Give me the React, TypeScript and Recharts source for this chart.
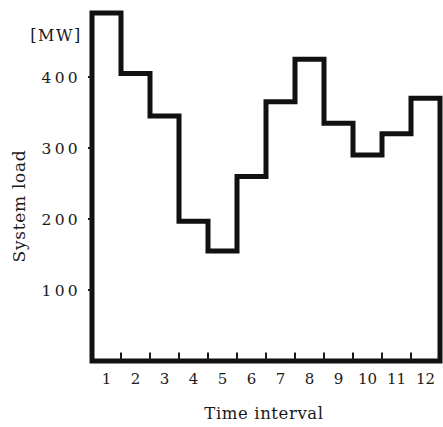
import React from 'react';
import { LineChart, Line, XAxis, YAxis, Label } from 'recharts';

const intervals = [1, 2, 3, 4, 5, 6, 7, 8, 9, 10, 11, 12];
const loads = [490, 405, 345, 197, 155, 260, 365, 425, 335, 290, 320, 370];
const yTicks = [100, 200, 300, 400];
const yUnit = '[MW]';
const yTitle = 'System load';
const xTitle = 'Time interval';

// outline of the stepped load profile (x = interval boundary)
const outline: { x: number; y: number }[] = [{ x: 0, y: 0 }];
intervals.forEach((_, i) => {
  outline.push({ x: i, y: loads[i] });
  outline.push({ x: i + 1, y: loads[i] });
});
outline.push({ x: intervals.length, y: 0 });
outline.push({ x: 0, y: 0 });

// label positions (interval centres) plus boundary tick marks
const xTicks: number[] = [];
intervals.forEach((n) => {
  xTicks.push(n - 0.5);
  if (n < intervals.length) xTicks.push(n);
});

const FONT = 'DejaVu Serif';
const INK = '#1a1a1a';
const TICK_OFFSET = 12; // tickSize + tickMargin

const XTick = (props: any) => {
  const { x, y, payload } = props;
  const v = Number(payload.value);
  if (Math.abs(v - Math.round(v)) < 1e-6) {
    const ay = y - TICK_OFFSET;
    return <line x1={x} x2={x} y1={ay} y2={ay - 8.5} stroke={INK} strokeWidth={2} />;
  }
  return (
    <text x={x} y={y} dy="0.71em" textAnchor="middle" fill={INK} fontSize={15} fontFamily={FONT}>
      {String(v + 0.5)}
    </text>
  );
};

export default function App() {
  return (
    <div style={{ position: 'absolute', left: 0, top: 0, background: '#fff' }}>
      <LineChart
        width={443}
        height={427}
        data={outline}
        margin={{ top: 6, right: 3, left: 0, bottom: 0 }}
      >
        <XAxis
          type="number"
          dataKey="x"
          domain={[0, 12]}
          ticks={xTicks}
          interval={0}
          height={66}
          axisLine={false}
          tickLine={false}
          tickSize={6}
          tickMargin={6}
          tick={<XTick />}
          minTickGap={0}
        >
          <Label
            content={({ viewBox }: any) => (
              <text
                x={viewBox.x + 172}
                y={viewBox.y + 58}
                textAnchor="middle"
                fill={INK}
                fontSize={16.5}
                fontFamily={FONT}
                letterSpacing={0.6}
              >
                {xTitle}
              </text>
            )}
          />
        </XAxis>
        <YAxis
          type="number"
          domain={[0, 500]}
          ticks={yTicks}
          interval={0}
          width={92}
          axisLine={false}
          tickLine={{ stroke: INK, strokeWidth: 2 }}
          tickSize={4}
          tickMargin={7}
          tick={{ fill: INK, fontSize: 15.5, fontFamily: FONT, letterSpacing: 3.3 }}
        >
          <Label
            content={({ viewBox }: any) => (
              <g>
                <text
                  x={viewBox.x + 19}
                  y={viewBox.y + 200}
                  transform={`rotate(-90 ${viewBox.x + 19} ${viewBox.y + 200})`}
                  textAnchor="middle"
                  dominantBaseline="central"
                  fill={INK}
                  fontSize={17}
                  fontFamily={FONT}
                  letterSpacing={0.7}
                >
                  {yTitle}
                </text>
                <text
                  x={viewBox.x + 56}
                  y={viewBox.y + 29}
                  textAnchor="middle"
                  dominantBaseline="central"
                  fill={INK}
                  fontSize={16}
                  fontFamily={FONT}
                  letterSpacing={1.5}
                >
                  {yUnit}
                </text>
              </g>
            )}
          />
        </YAxis>
        <Line
          type="linear"
          dataKey="y"
          stroke="#111"
          strokeWidth={5}
          strokeLinejoin="miter"
          strokeLinecap="square"
          dot={false}
          activeDot={false}
          isAnimationActive={false}
        />
      </LineChart>
    </div>
  );
}
